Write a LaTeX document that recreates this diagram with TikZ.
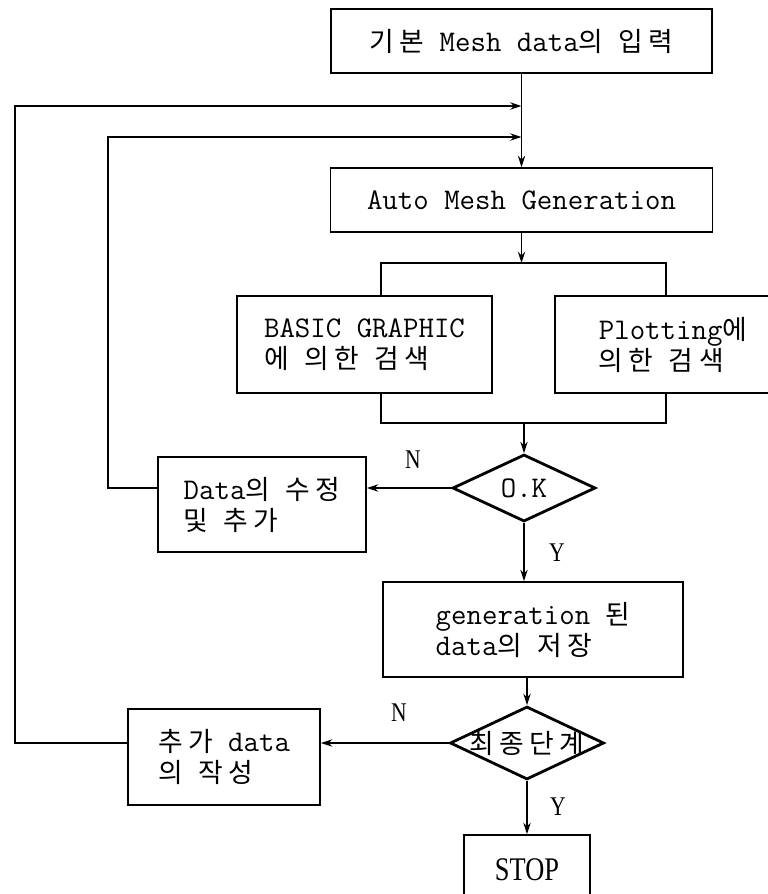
\documentclass[tikz,border=0pt]{standalone}
\usepackage{fontspec}
\setmainfont{Liberation Serif}
\newfontfamily\krfont[LetterSpace=20]{Noto Sans CJK KR}
\newfontfamily\ynfont[FakeStretch=0.8]{Liberation Serif}
\newcommand{\kr}[1]{{\krfont\fontsize{13.4}{15.5}\selectfont #1}}
\usetikzlibrary{arrows.meta, shapes.geometric}
\tikzset{
  flowbox/.style={draw, line width=0.9pt, align=left, inner sep=0pt,
                  font=\ttfamily\fontsize{15}{15.5}\selectfont},
  decision/.style={draw, diamond, line width=1.4pt, inner sep=0pt,
                   font=\ttfamily\fontsize{15}{15.5}\selectfont},
  flowline/.style={line width=0.75pt},
  flowarrow/.style={flowline, -{Stealth[length=2mm, width=1.3mm]}},
  yn/.style={font=\ynfont\fontsize{13.5}{15}\selectfont}
}

\begin{document}
\begin{tikzpicture}[x=0.5pt, y=-0.5pt]
\useasboundingbox (0,0) rectangle (767,894);

% boxes down the main column
\node[flowbox, minimum width=190.5pt, minimum height=32pt] (input) at (521.5,41) {\kr{기본} Mesh data\kr{의} \kr{입력}};
\node[flowbox, minimum width=191pt, minimum height=32pt] (auto) at (521.5,200) {Auto Mesh Generation};
\node[flowbox, minimum width=127.5pt, minimum height=48.5pt] (basic) at (364.5,344.5) {BASIC GRAPHIC\\\kr{에} \kr{의한} \kr{검색}};
\node[flowbox, minimum width=118pt, minimum height=48.5pt] (plot) at (673,344.5) {Plotting\kr{에}\\\kr{의한} \kr{검색}};
\node[decision, minimum width=71.5pt, minimum height=33.5pt] (ok) at (524,488) {O.K};
\node[flowbox, minimum width=104pt, minimum height=47.5pt] (fix) at (262,504.5) {Data\kr{의} \kr{수정}\\\kr{및} \kr{추가}};
\node[flowbox, minimum width=150pt, minimum height=47.5pt] (gen) at (533,629.5) {generation \kr{된}\\data\kr{의} \kr{저장}};
\node[decision, minimum width=77pt, minimum height=36.5pt] (last) at (527,743) {\makebox[0pt]{\kr{최종단계}}};
\node[flowbox, minimum width=96pt, minimum height=48pt] (add) at (224,757) {\kr{추가} data\\\kr{의} \kr{작성}};
\node[flowbox, minimum width=63pt, minimum height=35pt, font=\ynfont\fontsize{16.5}{18}\selectfont] (stop) at (527,870) {STOP};

% junctions
\coordinate (outer) at (521.5,106);
\coordinate (inner) at (521.5,137);
\coordinate (split) at (521.5,263);
\coordinate (sl) at (381,263);
\coordinate (sr) at (666,263);
\coordinate (ml) at (381,423);
\coordinate (mr) at (666,423);
\coordinate (merge) at (524,423);

% main flow
\draw[flowarrow] (input.south) -- (auto.north);
\draw[flowarrow] (auto.south) -- (split);
\draw[flowline] (sl |- basic.north) -- (sl) -- (sr) -- (sr |- plot.north);
\draw[flowline] (ml |- basic.south) -- (ml) -- (mr) -- (mr |- plot.south);
\draw[flowarrow] (merge) -- (ok.north);
\draw[flowarrow] (ok.west) -- (ok.west -| fix.east);
\draw[flowarrow] (ok.south) -- (ok.south |- gen.north);
\draw[flowarrow] (last.north |- gen.south) -- (last.north);
\draw[flowarrow] (last.west) -- (last.west -| add.east);
\draw[flowarrow] (last.south) -- (last.south |- stop.north);

% loops back
\draw[flowarrow] (fix.west |- ok.west) -- ++(-49,0) |- (inner);
\draw[flowarrow] (add.west |- last.west) -- ++(-112,0) |- (outer);

% answers
\node[yn] (okno) at (413,460) {N};
\node[yn] (okyes) at (557,553) {Y};
\node[yn] (lastno) at (399,713) {N};
\node[yn] (lastyes) at (558,807) {Y};

\end{tikzpicture}
\end{document}
